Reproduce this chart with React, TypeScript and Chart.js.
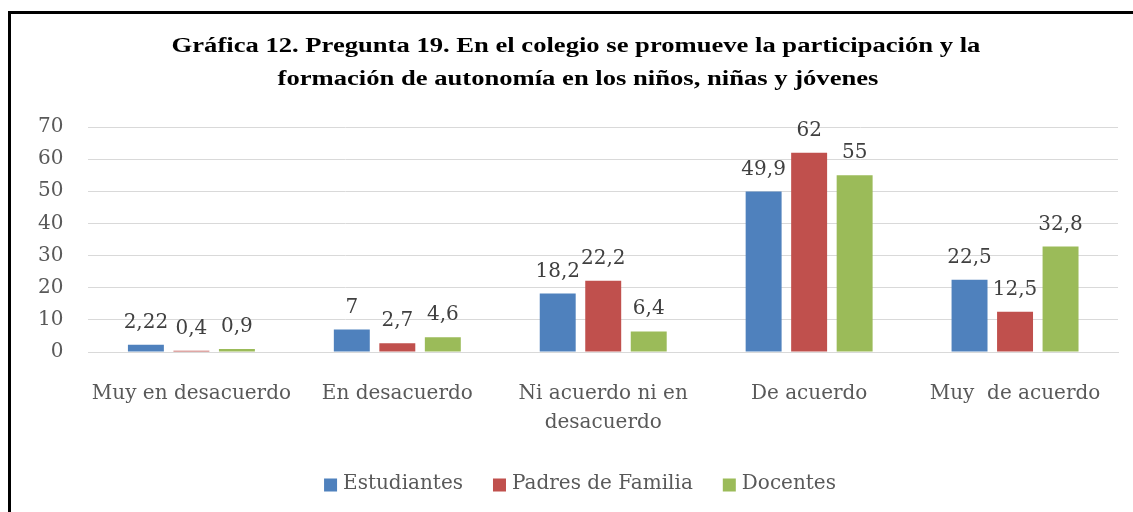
import React, { useEffect, useRef } from "react";
import { Chart, registerables } from "chart.js";

Chart.register(...registerables);

const categories: (string | string[])[] = [
  "Muy en desacuerdo",
  "En desacuerdo",
  ["Ni acuerdo ni en", "desacuerdo"],
  "De acuerdo",
  "Muy  de acuerdo",
];
const estudiantes = [2.22, 7, 18.2, 49.9, 22.5];
const padres = [0.4, 2.7, 22.2, 62, 12.5];
const docentes = [0.9, 4.6, 6.4, 55, 32.8];
const seriesNames = ["Estudiantes", "Padres de Familia", "Docentes"];
const seriesColors = ["#4F81BD", "#C0504D", "#9BBB59"];
const titleLines = [
  "Gráfica 12. Pregunta 19. En el colegio se promueve la participación y la",
  "formación de autonomía en los niños, niñas y jóvenes",
];

const SERIF = "'DejaVu Serif', serif";

const valueLabels = {
  id: "valueLabels",
  afterDatasetsDraw(chart: any) {
    const ctx = chart.ctx;
    ctx.save();
    ctx.font = `20px ${SERIF}`;
    ctx.fillStyle = "#404040";
    ctx.textAlign = "center";
    ctx.textBaseline = "alphabetic";
    chart.data.datasets.forEach((ds: any, i: number) => {
      const meta = chart.getDatasetMeta(i);
      meta.data.forEach((bar: any, j: number) => {
        const v = ds.data[j];
        ctx.fillText(String(v).replace(".", ","), bar.x, bar.y - 17);
      });
    });
    ctx.restore();
  },
};

const titleAndLegend = {
  id: "titleAndLegend",
  afterDraw(chart: any) {
    const ctx = chart.ctx;
    // Title (horizontally stretched bold serif)
    ctx.save();
    ctx.font = `bold 20px 'Liberation Serif', serif`;
    ctx.fillStyle = "#000";
    ctx.textAlign = "center";
    ctx.textBaseline = "middle";
    const sx = 1.33;
    ctx.scale(sx, 1);
    ctx.fillText(titleLines[0], 576 / sx, 47);
    ctx.fillText(titleLines[1], 578 / sx, 80);
    ctx.restore();

    // Legend
    ctx.save();
    ctx.font = `20px ${SERIF}`;
    ctx.textBaseline = "middle";
    ctx.textAlign = "left";
    const box = 13;
    const gapText = 6;
    const gapItem = 30;
    const widths = chart.data.datasets.map((ds: any) => ctx.measureText(ds.label).width);
    const total =
      widths.reduce((a: number, w: number) => a + box + gapText + w, 0) + gapItem * (widths.length - 1);
    let x = 580 - total / 2;
    const cy = 484;
    chart.data.datasets.forEach((ds: any, i: number) => {
      ctx.fillStyle = ds.backgroundColor;
      ctx.fillRect(x, cy - box / 2 + 1, box, box);
      ctx.fillStyle = "#595959";
      ctx.fillText(ds.label, x + box + gapText, cy);
      x += box + gapText + widths[i] + gapItem;
    });
    ctx.restore();
  },
};

export default function App() {
  const ref = useRef<HTMLCanvasElement>(null);
  useEffect(() => {
    if (!ref.current) return;
    const chart = new Chart(ref.current, {
      type: "bar",
      data: {
        labels: categories,
        datasets: seriesNames.map((name, i) => ({
          label: name,
          data: [estudiantes, padres, docentes][i],
          backgroundColor: seriesColors[i],
        })),
      },
      options: {
        animation: false,
        responsive: false,
        maintainAspectRatio: false,
        datasets: { bar: { categoryPercentage: 0.663, barPercentage: 0.79 } },
        layout: { autoPadding: false, padding: { top: 127, left: 13, right: 15, bottom: 0 } },
        plugins: {
          title: { display: false },
          legend: { display: false },
          tooltip: { enabled: false },
        },
        scales: {
          x: {
            grid: { display: false, drawTicks: false },
            border: { color: "#d9d9d9" },
            ticks: {
              color: "#595959",
              padding: 27,
              maxRotation: 0,
              autoSkip: false,
              font: { family: SERIF, size: 20, lineHeight: 1.45 },
            },
            afterFit: (scale: any) => {
              scale.height = 160;
            },
          },
          y: {
            min: 0,
            max: 70,
            ticks: {
              stepSize: 10,
              color: "#595959",
              padding: 25,
              font: { family: SERIF, size: 20 },
            },
            grid: { color: "#d9d9d9", drawTicks: false },
            border: { display: false },
          },
        },
      },
      plugins: [valueLabels, titleAndLegend],
    });
    return () => chart.destroy();
  }, []);

  return (
    <div style={{ position: "fixed", left: 0, top: 0, width: 1133, height: 512, overflow: "hidden", background: "#fff" }}>
      <div
        style={{
          position: "absolute",
          left: 8,
          top: 11,
          width: 1200,
          height: 600,
          border: "3px solid #000",
          boxSizing: "border-box",
        }}
      />
      <canvas ref={ref} width={1133} height={512} style={{ position: "absolute", left: 0, top: 0 }} />
    </div>
  );
}
